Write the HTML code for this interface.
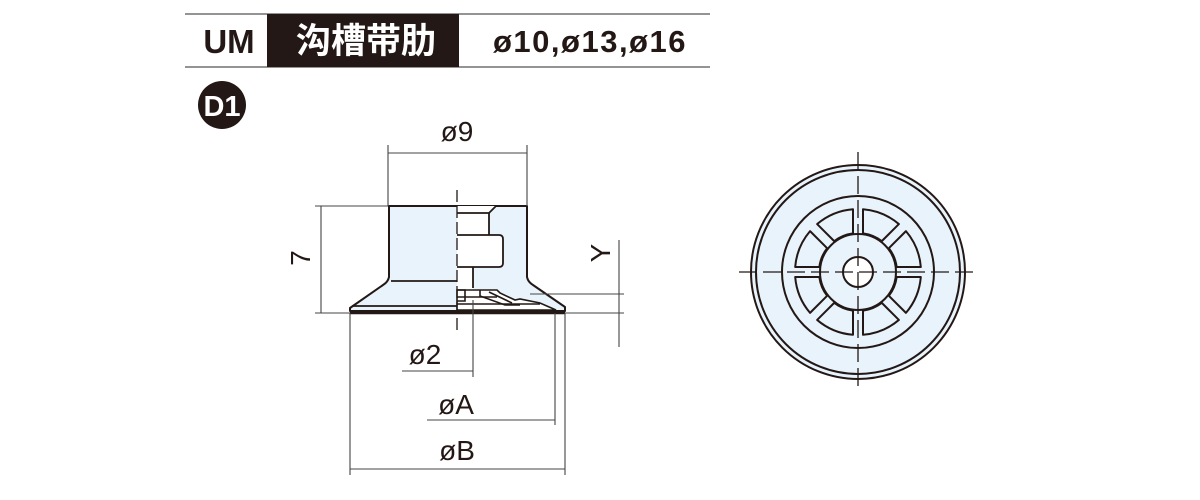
<!DOCTYPE html>
<html><head><meta charset="utf-8"><style>
html,body{margin:0;padding:0;background:#fff;}
svg{display:block}
</style></head><body>
<svg width="1200" height="500" viewBox="0 0 1200 500" xmlns="http://www.w3.org/2000/svg" font-family="Liberation Sans, Noto Sans CJK SC, sans-serif">
<!-- header -->
<line x1="185" y1="14" x2="710" y2="14" stroke="#555" stroke-width="1.2"/>
<line x1="185" y1="67" x2="710" y2="67" stroke="#555" stroke-width="1.2"/>
<rect x="267" y="14" width="192" height="53" fill="#231815"/>
<text x="229" y="53" font-size="33" font-weight="bold" text-anchor="middle" fill="#231815">UM</text>
<text x="366" y="53" font-size="35" font-weight="bold" text-anchor="middle" fill="#fff" font-family="Noto Sans CJK SC, sans-serif">沟槽带肋</text>
<text x="590" y="52" font-size="31" font-weight="bold" text-anchor="middle" fill="#231815" letter-spacing="1.5">ø10,ø13,ø16</text>
<circle cx="222" cy="105" r="24" fill="#231815"/>
<text x="222" y="116" font-size="29" font-weight="bold" text-anchor="middle" fill="#fff">D1</text>

<!-- side view body -->
<g stroke="#231815" stroke-width="2" fill="#e8f3fb" stroke-linejoin="round">
<path d="M389 206 L527 206 L527 277 Q528 282 533 285 L565 307 L565 311 L350 311 L350 308 L383 285 Q388 282 389 277 Z"/>
</g>
<line x1="350" y1="313" x2="565" y2="313" stroke="#231815" stroke-width="2.5"/>
<path d="M457 213 L489 213 L496 206 L457 206 Z" fill="#fff"/>
<path d="M457 213 L489 213 L489 235 L499 235 Q503 235 503 239 L503 263 Q503 267 499 267 L473 267 L473 290 L457 290 Z" fill="#fff" stroke="none"/>
<g stroke="#231815" stroke-width="1.8" fill="none">
<path d="M457 213 L489 213 L496 206"/>
<path d="M489 213 L489 235"/>
<path d="M457 235 L499 235 Q503 235 503 239 L503 263 Q503 267 499 267 L457 267"/>
<path d="M473 267 L473 288"/>
<line x1="391" y1="281" x2="457" y2="281"/>
<line x1="352" y1="306" x2="457" y2="306"/>
</g>
<g stroke="#231815" stroke-width="1.6" fill="#fff">
<path d="M457 290 L497 290 L500 293 L515 300 L520 299 L540 303 L556 310 L457 310 Z"/>
<path d="M457 290 L465 290 L465 301 L457 301" fill="none"/>
<path d="M480 290 L480 296 L505 305 L520 305" fill="none"/>
<path d="M489 292 L512 303" fill="none"/>
<line x1="457" y1="297" x2="497" y2="297"/>
<line x1="457" y1="304" x2="540" y2="304"/>
</g>
<line x1="457" y1="190" x2="457" y2="332" stroke="#231815" stroke-width="1.3" stroke-dasharray="12,4"/>

<!-- dimensions -->
<g stroke="#444" stroke-width="1.1">
<line x1="388" y1="145" x2="388" y2="206"/>
<line x1="527" y1="145" x2="527" y2="206"/>
<line x1="388" y1="153" x2="527" y2="153"/>
<line x1="315" y1="206" x2="388" y2="206"/>
<line x1="315" y1="313" x2="350" y2="313"/>
<line x1="321" y1="206" x2="321" y2="313"/>
<line x1="619" y1="240" x2="619" y2="347"/>
<line x1="530" y1="294" x2="624" y2="294"/>
<line x1="565" y1="313" x2="624" y2="313"/>
<line x1="473" y1="300" x2="473" y2="377"/>
<line x1="402" y1="371" x2="473" y2="371"/>
<line x1="555" y1="313" x2="555" y2="425"/>
<line x1="427" y1="420" x2="555" y2="420"/>
<line x1="350" y1="313" x2="350" y2="475"/>
<line x1="565" y1="313" x2="565" y2="475"/>
<line x1="350" y1="469" x2="565" y2="469"/>
</g>
<g fill="#231815" font-size="28" text-anchor="middle">
<text x="457" y="141">ø9</text>
<text x="425" y="364">ø2</text>
<text x="456" y="414">øA</text>
<text x="457" y="460">øB</text>
<text transform="translate(300,258) rotate(-90)" y="10">7</text>
<text transform="translate(600,253) rotate(-90)" y="10">Y</text>
</g>

<!-- front view -->
<g stroke="#231815" stroke-width="2" fill="#e8f3fb">
<circle cx="858" cy="272" r="107"/>
<circle cx="858" cy="272" r="102"/>
<circle cx="858" cy="272" r="76"/>
<g id="segs"></g>
<circle cx="858" cy="272" r="38"/>
<circle cx="858" cy="272" r="15" fill="#fff"/>
</g>
<g stroke="#231815" stroke-width="1.3" stroke-dasharray="18,6">
<line x1="739" y1="272" x2="978" y2="272"/>
<line x1="858" y1="152" x2="858" y2="392"/>
</g>
</svg>
<script>
(function(){
var cx=858,cy=272,ri=39,ro=63,g=5,s='';
function pt(r,th,sgn){var rr=Math.sqrt(r*r-g*g);return [cx+rr*Math.cos(th)-sgn*g*Math.sin(th),cy+rr*Math.sin(th)+sgn*g*Math.cos(th)];}
for(var k=0;k<8;k++){
 var a=k*Math.PI/4,b=(k+1)*Math.PI/4;
 var p1=pt(ri,a,1),p2=pt(ro,a,1),p3=pt(ro,b,-1),p4=pt(ri,b,-1);
 s+='<path d="M'+p1+' L'+p2+' A'+ro+' '+ro+' 0 0 1 '+p3+' L'+p4+' A'+ri+' '+ri+' 0 0 0 '+p1+' Z" fill="#e8f3fb" stroke="#231815" stroke-width="2" stroke-linejoin="round"/>';
}
document.getElementById('segs').innerHTML=s;
})();
</script>
</body></html>
